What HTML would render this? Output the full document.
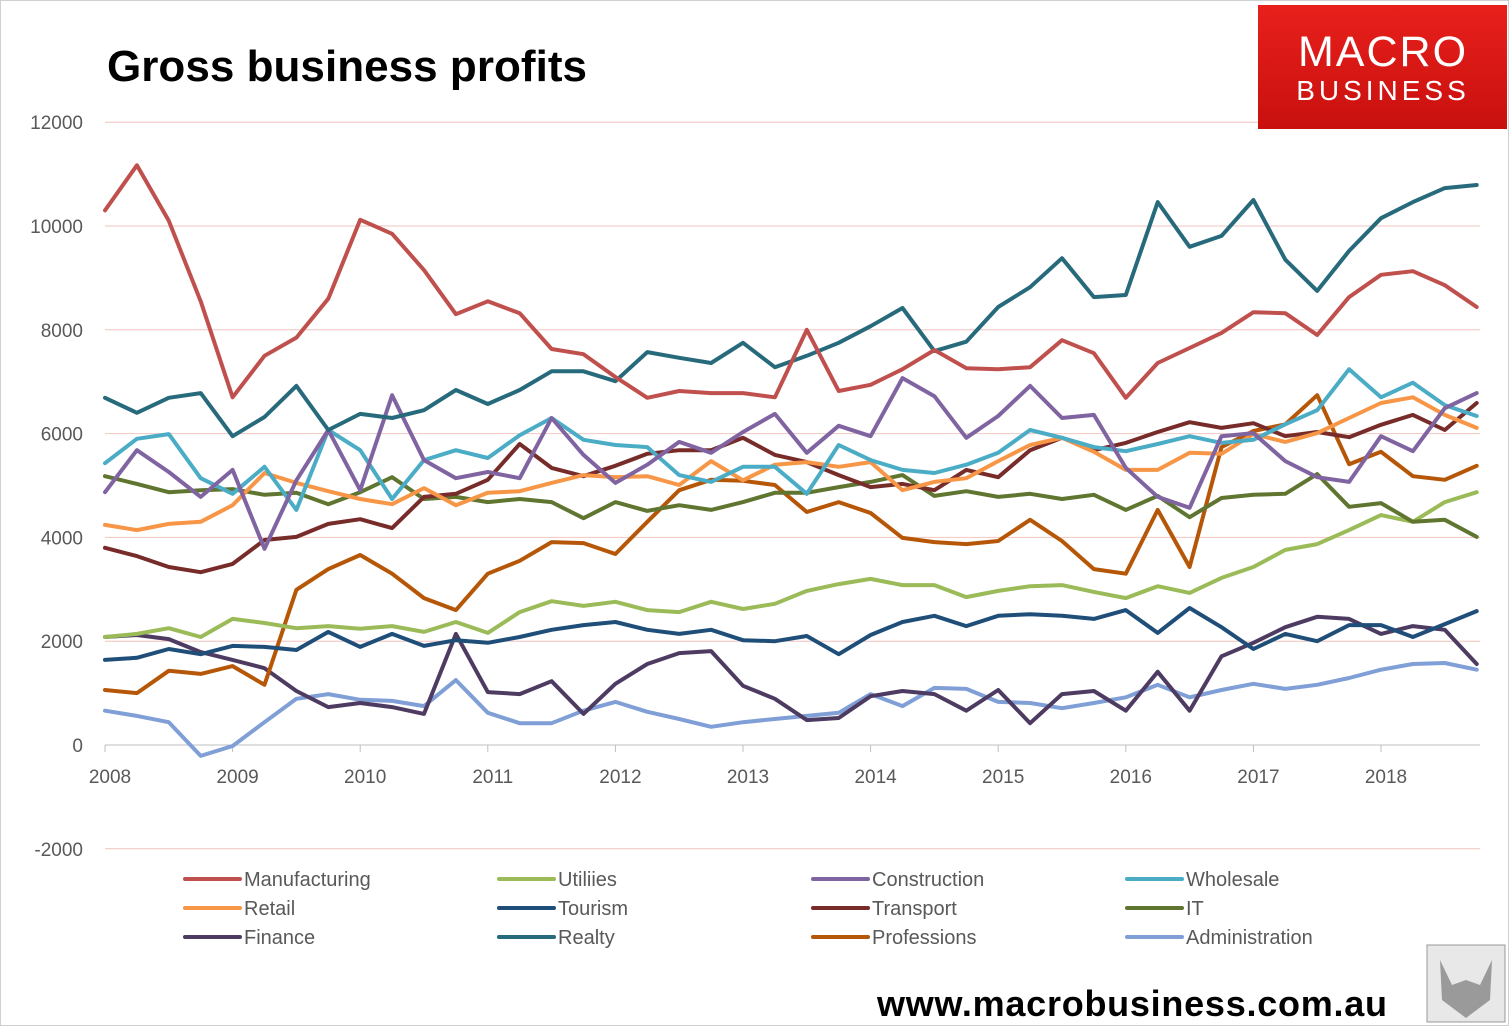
<!DOCTYPE html>
<html><head><meta charset="utf-8"><style>
html,body{margin:0;padding:0;background:#fff}
svg{display:block}
text{font-family:"Liberation Sans",sans-serif}
</style></head><body>
<svg id="c" width="1509" height="1026" viewBox="0 0 1509 1026">
<rect x="0.5" y="0.5" width="1508" height="1025" fill="#fff" stroke="#d0d0d0"/>
<text x="107" y="81" font-size="44" font-weight="bold" fill="#000" textLength="480">Gross business profits</text>
<g id="grid"></g><g id="series"></g>
<g>
<defs><linearGradient id="lg" x1="0" y1="0" x2="0" y2="1"><stop offset="0" stop-color="#e8201c"/><stop offset="1" stop-color="#c8100e"/></linearGradient></defs>
<rect x="1258" y="5" width="249" height="124" fill="url(#lg)"/>
<text x="1383" y="66" font-size="43" fill="#fff" text-anchor="middle" letter-spacing="2">MACRO</text>
<text x="1383" y="100" font-size="28" fill="#fff" text-anchor="middle" letter-spacing="4">BUSINESS</text>
</g>
<g id="legend"></g>
<text x="877" y="1016" font-size="36" font-weight="bold" fill="#000" textLength="510">www.macrobusiness.com.au</text>
<g>
<rect x="1427" y="945" width="78" height="77" fill="#e8e8e8" stroke="#999"/>
<path d="M1440 960 L1452 985 L1466 980 L1480 985 L1492 960 L1490 1000 L1466 1018 L1442 1000 Z" fill="#9a9a9a"/>
</g>
</svg>
<script>
const years=["2008","2009","2010","2011","2012","2013","2014","2015","2016","2017","2018"];
const yTicks=[-2000,0,2000,4000,6000,8000,10000,12000];
const names=["Manufacturing","Utiliies","Construction","Wholesale","Retail","Tourism","Transport","IT","Finance","Realty","Professions","Administration"];
const colors=["#c0504d","#9bbb59","#8064a2","#4bacc6","#f79646","#1f4e79","#772c2a","#5f7530","#4d3b62","#276a7c","#b65708","#7f9fd6"];
const manufacturing=[10300,11170,10100,8550,6700,7500,7850,8600,10120,9850,9150,8300,8550,8320,7630,7530,7090,6690,6820,6780,6780,6700,8000,6820,6940,7240,7610,7260,7240,7280,7800,7550,6690,7360,7650,7940,8340,8320,7900,8630,9060,9130,8860,8440];
const utilities=[2080,2140,2250,2080,2430,2350,2250,2290,2240,2290,2180,2370,2160,2560,2770,2680,2760,2600,2560,2760,2620,2720,2970,3100,3200,3080,3080,2850,2970,3060,3080,2950,2830,3060,2930,3220,3430,3760,3870,4140,4430,4300,4680,4870];
const construction=[4870,5680,5260,4780,5300,3780,5100,6070,4910,6740,5490,5140,5260,5140,6300,5590,5050,5400,5840,5630,6030,6380,5630,6150,5950,7070,6720,5920,6340,6920,6300,6360,5340,4780,4570,5950,6010,5470,5160,5070,5950,5660,6490,6780];
const wholesale=[5430,5900,5990,5140,4840,5360,4530,6070,5680,4740,5490,5680,5530,5970,6300,5880,5780,5740,5200,5070,5360,5360,4840,5780,5490,5300,5240,5400,5630,6070,5920,5740,5660,5800,5950,5820,5880,6180,6450,7240,6700,6980,6550,6340];
const retail=[4240,4140,4260,4300,4620,5240,5050,4890,4740,4640,4950,4620,4860,4890,5050,5200,5160,5180,5010,5470,5100,5400,5450,5360,5450,4910,5070,5140,5470,5780,5920,5650,5300,5300,5630,5610,5990,5840,6010,6300,6590,6700,6360,6110];
const tourism=[1640,1680,1850,1750,1910,1890,1830,2180,1890,2140,1910,2020,1970,2080,2220,2310,2370,2220,2140,2220,2020,2000,2100,1750,2120,2370,2490,2290,2490,2520,2490,2430,2600,2160,2640,2270,1850,2140,2000,2310,2310,2080,2330,2580];
const transport=[3800,3640,3430,3330,3490,3950,4010,4260,4350,4180,4780,4840,5110,5800,5340,5180,5380,5610,5680,5680,5920,5590,5450,5200,4970,5030,4910,5300,5160,5680,5920,5680,5820,6030,6220,6110,6200,5950,6030,5930,6170,6360,6070,6590];
const it=[5180,5030,4870,4910,4930,4820,4860,4640,4870,5160,4740,4780,4680,4740,4680,4370,4680,4510,4620,4530,4680,4860,4860,4970,5070,5200,4800,4890,4780,4840,4740,4820,4530,4800,4390,4760,4820,4840,5220,4590,4660,4300,4340,4010];
const finance=[2080,2120,2040,1790,1640,1480,1040,730,810,730,600,2140,1020,980,1230,600,1180,1560,1770,1810,1140,890,480,520,940,1040,980,660,1060,420,980,1040,660,1410,660,1710,1970,2270,2470,2430,2140,2290,2220,1560];
const realty=[6690,6400,6690,6780,5950,6320,6920,6070,6380,6300,6450,6840,6570,6840,7200,7200,7010,7570,7460,7360,7750,7280,7500,7750,8070,8420,7590,7770,8440,8820,9380,8630,8670,10460,9600,9810,10500,9350,8750,9520,10150,10460,10730,10790];
const professions=[1060,1000,1430,1370,1520,1160,2990,3390,3660,3300,2830,2600,3300,3550,3910,3890,3680,4300,4910,5110,5090,5010,4490,4680,4470,3990,3910,3870,3930,4340,3930,3390,3300,4530,3430,5740,6050,6180,6740,5410,5650,5180,5110,5380];
const administration=[660,560,440,-210,-20,440,890,980,870,850,750,1250,620,420,420,660,830,640,500,350,440,500,560,620,980,750,1100,1080,830,810,710,810,920,1160,920,1060,1180,1080,1160,1290,1450,1560,1580,1450];
const seriesData=[manufacturing,utilities,construction,wholesale,retail,tourism,transport,it,finance,realty,professions,administration];
const drawOrder=[11,8,10,5,1,7,6,4,3,2,9,0];
const NS="http://www.w3.org/2000/svg";
const X=q=>105+q*31.9;
const Y=v=>745-v*0.0519;
function mk(t,a,p){const e=document.createElementNS(NS,t);for(const k in a)e.setAttribute(k,a[k]);p.appendChild(e);return e;}
const grid=document.getElementById('grid');
yTicks.forEach(v=>{
 if(v!==0){const l=mk('line',{x1:105,x2:1480,y1:Y(v),y2:Y(v),stroke:'#f2c4c0','stroke-width':1},grid);
 
 }
 const t=mk('text',{x:83,y:Y(v)+7,'font-size':19,fill:'#595959','text-anchor':'end'},grid);
 t.textContent=v;
 
 
});
const ax=mk('line',{x1:105,x2:1480,y1:Y(0),y2:Y(0),stroke:'#bfbfbf','stroke-width':1},grid);


years.forEach((y,i)=>{
 const tk=mk('line',{x1:X(i*4),x2:X(i*4),y1:745,y2:752,stroke:'#bfbfbf'},grid);
 
 
 const t=mk('text',{x:X(i*4)+5,y:783,'font-size':19,fill:'#595959','text-anchor':'middle'},grid);
 t.textContent=y;
 
 
});
const sg=document.getElementById('series');
drawOrder.forEach(i=>{
 const d=seriesData[i].map((v,q)=>(q?'L':'M')+X(q).toFixed(1)+' '+Y(v).toFixed(1)).join(' ');
 const p=mk('path',{d:d,fill:'none',stroke:colors[i],'stroke-width':4,'stroke-linejoin':'round','stroke-linecap':'round'},sg);
 
 
});
const lg=document.getElementById('legend');
names.forEach((n,i)=>{
 const col=i%4,row=Math.floor(i/4);
 const x=185+col*314,y=879+row*29;
 const g=mk('g',{},lg);
 
 
 mk('line',{x1:x,x2:x+55,y1:y,y2:y,stroke:colors[i],'stroke-width':4,'stroke-linecap':'round'},g);
 const t=mk('text',{x:x+59,y:y+7,'font-size':20,fill:'#595959'},g);
 t.textContent=n;
});
</script>
</body></html>
